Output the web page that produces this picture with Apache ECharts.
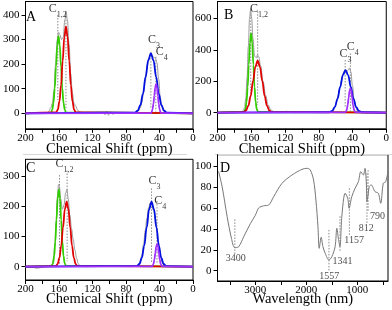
<!DOCTYPE html>
<html><head><meta charset="utf-8">
<script src="https://cdn.jsdelivr.net/npm/echarts@6/dist/echarts.min.js"></script>
<style>html,body{margin:0;padding:0;background:#fff}#c{width:392px;height:310px}</style>
</head><body><div id="c"></div>
<script>
// ---------- tick values ----------
const nmrTickVals = [0,20,40,60,80,100,120,140,160,180,200];
const nmrLabelVals = [0,40,80,120,160,200];
const yTicksA = [0,100,200,300,400];
const yTicksB = [0,200,400,600];
const yTicksC = [0,100,200,300];
const yTicksD = [0,20,40,60,80,100];
const irTickVals = [500,1000,1500,2000,2500,3000,3500];
const irLabelVals = [1000,2000,3000];

// ---------- Panel A (ppm, intensity) ----------
const greenA = [[0,0],[151.6,3],[153.1,14],[154.6,42],[156.1,102],[157.6,190],[159.1,277],[160.6,314],[162.1,277],[163.6,190],[165.1,102],[166.6,42],[168.1,14],[169.6,3],[200,0]];
const redA = [[0,0],[140.0,4],[141.95,15],[143.9,48],[145.85,114],[147.8,213],[149.75,311],[151.7,352],[153.65,311],[155.6,213],[157.55,114],[159.5,48],[161.45,15],[163.4,4],[200,0]];
const blueA = [[0,0],[31.4,3],[34.55,11],[37.7,33],[40.85,79],[44.0,148],[47.15,215],[50.3,244],[53.45,215],[56.6,148],[59.75,79],[62.9,33],[66.05,11],[69.2,3],[200,0]];
const purpleA = [[0,0],[37.8,1],[38.85,5],[39.9,16],[40.95,39],[42.0,72],[43.05,105],[44.1,119],[45.15,105],[46.2,72],[47.25,39],[48.3,16],[49.35,5],[50.4,1],[200,0]];
const grayA = [[0,0],[20,1],[30,0],[33,3],[35,8],[37,25],[39,60],[41,140],[43,205],[45,225],[47,228],[49,236],[51,240],[53,222],[55,180],[57,130],[59,85],[61,45],[63,22],[65,10],[68,3],[72,0],[90,1],[96,-3],[99,6],[101,-8],[103,9],[105,-6],[107,4],[110,0],[130,2],[136,6],[138,15],[140,28],[142,40],[144,80],[146,160],[148,280],[150,380],[151.5,412],[153,380],[155,310],[157,300],[159,320],[160.5,330],[162,300],[164,200],[166,90],[168,40],[170,22],[172,8],[175,0],[185,2],[200,0]];
const dropsA = [[161.4,400,54],[151.7,417,20],[50.3,249,20],[44.4,230,7]];
const peakTextA = [['C','1,2',172.3,425],['C','3',53.8,298],['C','4',44.4,249]];

// ---------- Panel B ----------
const greenB = [[0,0],[152.1,6],[153.45,22],[154.8,68],[156.15,164],[157.5,306],[158.85,446],[160.2,505],[161.55,446],[162.9,306],[164.25,164],[165.6,68],[166.95,22],[168.3,6],[200,0]];
const redB = [[0,0],[135.9,4],[138.65,15],[141.4,45],[144.15,107],[146.9,201],[149.65,292],[152.4,331],[155.15,292],[157.9,201],[160.65,107],[163.4,45],[166.15,15],[168.9,4],[200,0]];
const blueB = [[0,0],[29.4,3],[32.55,12],[35.7,37],[38.85,88],[42.0,164],[45.15,239],[48.3,271],[51.45,239],[54.6,164],[57.75,88],[60.9,37],[64.05,12],[67.2,3],[200,0]];
const purpleB = [[0,0],[36.2,2],[37.25,7],[38.3,21],[39.35,50],[40.4,94],[41.45,137],[42.5,155],[43.55,137],[44.6,94],[45.65,50],[46.7,21],[47.75,7],[48.8,2],[200,0]];
const grayB = [[0,0],[15,2],[25,0],[28,8],[31,2],[34,10],[36,30],[38,80],[40,170],[42,260],[43.5,285],[45,270],[47,262],[49,268],[51,250],[53,205],[55,160],[57,110],[59,65],[61,35],[63,15],[66,5],[70,0],[110,0],[116,3],[118,10],[120,2],[130,1],[134,8],[137,20],[140,50],[143,110],[146,200],[149,300],[151,355],[152.5,368],[154,350],[156,360],[158,470],[159.5,600],[160.8,655],[162,600],[163.5,420],[165,220],[166.5,90],[168,30],[170,10],[173,2],[180,0],[190,3],[200,0]];
const dropsB = [[160.6,663,100],[152.4,645,50],[48.7,335,30],[42.5,377,8]];
const peakTextB = [['C','1,2',161.4,659],['C','3',55.3,373],['C','4',46.8,420]];

// ---------- Panel C ----------
const greenC = [[0,0],[151.8,3],[153.2,11],[154.6,35],[156.0,83],[157.4,155],[158.8,226],[160.2,256],[161.6,226],[163.0,155],[164.4,83],[165.8,35],[167.2,11],[168.6,3],[200,0]];
const redC = [[0,0],[138.0,2],[140.15,9],[142.3,29],[144.45,70],[146.6,130],[148.75,190],[150.9,215],[153.05,190],[155.2,130],[157.35,70],[159.5,29],[161.65,9],[163.8,2],[200,0]];
const blueC = [[0,0],[32.1,2],[35.0,9],[37.9,29],[40.8,70],[43.7,130],[46.6,190],[49.5,215],[52.4,190],[55.3,130],[58.2,70],[61.1,29],[64.0,9],[66.9,2],[200,0]];
const purpleC = [[0,0],[36.6,1],[37.65,3],[38.7,10],[39.75,24],[40.8,45],[41.85,66],[42.9,75],[43.95,66],[45.0,45],[46.05,24],[47.1,10],[48.15,3],[49.2,1],[200,0]];
const grayC = [[0,0],[30,0],[33,2],[35,6],[37,15],[39,40],[41,80],[43,125],[45,160],[47,185],[49,205],[51,212],[53,195],[55,160],[57,120],[59,75],[61,40],[63,18],[65,7],[68,2],[72,0],[130,0],[135,3],[137,10],[139,28],[141,55],[143,90],[145,125],[147,170],[149,225],[150.5,255],[152,245],[154,205],[156,190],[158,225],[159.5,265],[160.5,272],[162,230],[163.5,150],[165,70],[166.5,25],[168,8],[170,2],[175,0],[188,-5],[190,-2],[200,0]];
const dropsC = [[159.4,303,10],[150.3,318,18],[49.5,259,15],[43.0,217,10]];
const peakTextC = [['C','1,2',164.1,339],['C','3',53.0,284],['C','4',46.4,219]];

// ---------- Panel D (wavenumber, transmittance) ----------
const irCurve = [[400,95],[445,85],[492,83.5],[543,64.4],[590,74],[654,75.5],[730,82],[770,80],[790,72],[800,70],[812,66],[825,84],[850,97.8],[883,91.4],[933,94.6],[980,85],[1045,78.7],[1110,70.7],[1162,59.6],[1188,69],[1240,74],[1305,51.6],[1341,23],[1370,30],[1402,40.5],[1436,23],[1500,13.4],[1557,10.2],[1630,16.6],[1675,23],[1709,32],[1747,21.4],[1772,42],[1812,67.5],[1858,86.6],[1923,96.2],[1988,97.8],[2086,96.8],[2281,91.4],[2476,83.5],[2640,70.7],[2738,62.7],[2836,62],[2933,60],[2998,53],[3096,45],[3226,32.5],[3324,23],[3402,22],[3467,31],[3551,51.6],[3648,80],[3720,95]];
// [label, x, line top, line bottom, label x, label y]
const irMarks = [['3400',3400,49,16,3383,11.8],['1557',1557,39,-1,1552,-5.7],['1341',1341,52,19,1289,8.6],['1157',1157,78.7,34,1064,29],['812',812,93,45,824,40.4],['790',790,96,56,605,51.6]];

// ---------- build option ----------
const FONT = 'Liberation Serif';
const grids = [
  {left:22, top:1.5, width:171, height:127.3},
  {left:217.5, top:1.5, width:170.5, height:127.3},
  {left:22, top:159.3, width:171, height:120.7},
  {left:217.5, top:154.7, width:170.5, height:126.3}
].map(g => Object.assign({show:true, borderColor:'#000', borderWidth:1, backgroundColor:'transparent'}, g));

function xAx(i, min, max, ticks, labels, name, gap) {
  return {gridIndex:i, type:'value', min:min, max:max, inverse:true,
    axisLine:{show:true, onZero:false, lineStyle:{color:'#000', width:1}},
    axisTick:{show:true, length:4, customValues:ticks, lineStyle:{color:'#000'}},
    axisLabel:{customValues:labels, margin:4, fontSize:11, fontFamily:FONT, color:'#000', formatter:v => String(v)},
    splitLine:{show:false},
    name:name, nameLocation:'middle', nameGap:gap, nameMoveOverlap:false,
    nameTextStyle:{fontFamily:FONT, fontSize:14.5, color:'#000'}};
}
function yAx(i, min, max, ticks) {
  return {gridIndex:i, type:'value', min:min, max:max,
    axisLine:{show:true, onZero:false, lineStyle:{color:'#000', width:1}},
    axisTick:{show:true, length:4, customValues:ticks, lineStyle:{color:'#000'}},
    axisLabel:{customValues:ticks, margin:6, fontSize:11, fontFamily:FONT, color:'#000', formatter:v => String(v)},
    splitLine:{show:false}};
}
const xAxes = [
  xAx(0,0,200,nmrTickVals,nmrLabelVals,'Chemical Shift (ppm)',12.5),
  xAx(1,0,200,nmrTickVals,nmrLabelVals,'Chemical Shift (ppm)',12.5),
  xAx(2,0,200,nmrTickVals,nmrLabelVals,'Chemical Shift (ppm)',12),
  xAx(3,400,3740,irTickVals,irLabelVals,'Wavelength (nm)',11)
];
const yAxes = [
  yAx(0,-63.1,454.8,yTicksA),
  yAx(1,-102.4,707.3,yTicksB),
  yAx(2,-44,355.3,yTicksC),
  yAx(3,-9.8,110.8,yTicksD)
];

const series = [];
function curve(i, data, color, width, z) {
  series.push({type:'line', xAxisIndex:i, yAxisIndex:i, data:data, symbol:'none', smooth:0.4,
    smoothMonotone:'x', lineStyle:{color:color, width:width}, z:z, silent:true, animation:false});
}
function drop(i, x, top, bottom) {
  series.push({type:'line', xAxisIndex:i, yAxisIndex:i, data:[[x,top],[x,bottom]], symbol:'none',
    lineStyle:{color:'#888', width:1, type:[1.5,1.5]}, z:1, silent:true, animation:false});
}
function peakText(i, arr) {
  series.push({type:'scatter', xAxisIndex:i, yAxisIndex:i, symbolSize:0, silent:true, animation:false, z:10,
    data:arr.map(a => ({value:[a[2],a[3]], m:a[0], s:a[1]})),
    label:{show:true, position:'right', distance:0,
      formatter:p => '{m|' + p.data.m + '}{s|' + p.data.s + '}',
      rich:{m:{fontFamily:FONT, fontSize:12, color:'#000', lineHeight:12, verticalAlign:'top'},
            s:{fontFamily:FONT, fontSize:8, color:'#000', lineHeight:8, padding:[8,0,0,0], verticalAlign:'top'}}}});
}
const panels = [
  [grayA, greenA, redA, blueA, purpleA, dropsA, peakTextA],
  [grayB, greenB, redB, blueB, purpleB, dropsB, peakTextB],
  [grayC, greenC, redC, blueC, purpleC, dropsC, peakTextC]
];
panels.forEach((p, i) => {
  p[5].forEach(d => drop(i, d[0], d[1], d[2]));
  curve(i, p[0], '#9a9a9a', 1, 2);
  curve(i, p[1], '#33cc00', 1.8, 3);
  curve(i, p[2], '#e00000', 1.8, 4);
  curve(i, p[3], '#0010e0', 1.8, 5);
  curve(i, p[4], '#a030ff', 1.8, 6);
  peakText(i, p[6]);
});
// Panel D
series.push({type:'line', xAxisIndex:3, yAxisIndex:3, data:irCurve, symbol:'none', smooth:0.3,
  lineStyle:{color:'#777', width:1}, z:3, silent:true, animation:false});
irMarks.forEach(m => drop(3, m[1], m[2], m[3]));
series.push({type:'scatter', xAxisIndex:3, yAxisIndex:3, symbolSize:0, silent:true, animation:false, z:10,
  data:irMarks.map(m => ({value:[m[4], m[5]], name:m[0]})),
  label:{show:true, position:'inside', formatter:p => p.name, fontFamily:FONT, fontSize:10, color:'#222'}});

const letters = [['A',26,16.5],['B',224,14.5],['C',26,167.3],['D',220,167]];
const option = {
  animation:false,
  backgroundColor:'#fff',
  grid:grids, xAxis:xAxes, yAxis:yAxes, series:series,
  graphic:letters.map(l => ({type:'text', left:l[1], top:l[2]-6, z:100,
      style:{text:l[0], font:'14px "Liberation Serif"', fill:'#000'}}))
    .concat([
      {type:'line', shape:{x1:23, y1:154.5, x2:187, y2:154.5}, style:{stroke:'#d8d8d8', lineWidth:1}},
      {type:'line', shape:{x1:215, y1:154.5, x2:392, y2:154.5}, style:{stroke:'#d8d8d8', lineWidth:1}}
    ])
};
const chart = echarts.init(document.getElementById('c'));
chart.setOption(option);
</script></body></html>
